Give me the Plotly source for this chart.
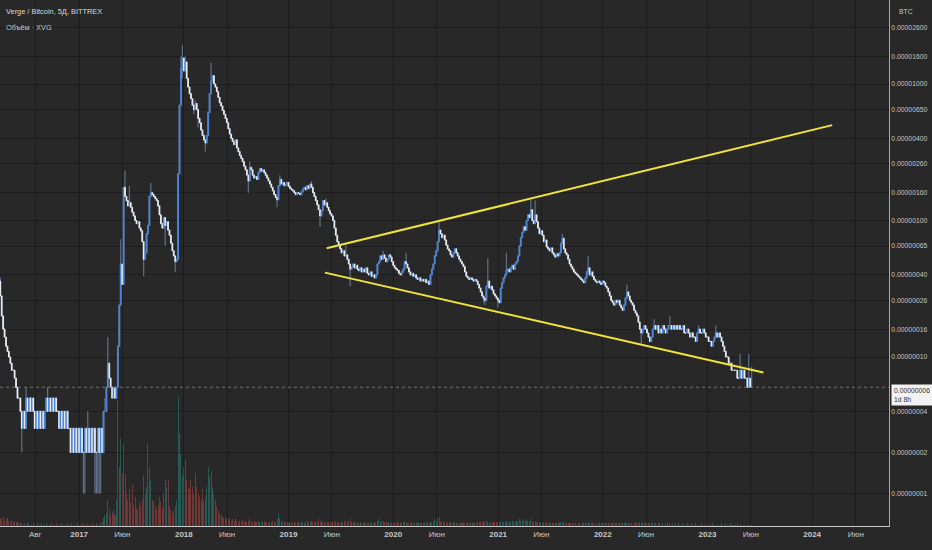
import numpy as np
import pandas as pd
import plotly.graph_objects as go

# ---------------- DATA (XVG/BTC, 5-day candles, prices in satoshi = 1e-8 BTC) ----------------
start_date = "2016-04-01"
period_days = 5
first_open_sat = 36

close_sat = [
    28, 20, 16, 14, 12, 11, 10, 9, 8, 8, 7, 6, 5, 5, 4,
    3, 4, 3, 5, 4, 5, 4, 5, 4, 3, 4, 3, 4, 3, 4, 3, 4, 5, 4, 5,
    4, 5, 4, 5, 4, 4, 3, 4, 3, 4, 3, 4, 3, 3, 2, 3, 2, 3, 2, 3,
    2, 3, 2, 2, 3, 2, 3, 2, 3, 2, 3, 2, 2, 3, 2, 3, 2, 4, 4, 6,
    9, 7, 6, 5, 6, 5, 6, 12, 24, 48, 34, 175, 150, 140, 128, 135, 125, 115, 108, 100, 95, 98, 88, 84, 70,
    52, 58, 80, 92, 150, 160, 155, 150, 145, 140, 128, 110, 95, 88, 105, 92, 98, 85, 78, 68, 60, 55, 50, 52, 220,
    700, 1300, 1550, 1250, 1450, 1100, 950, 850, 780, 700, 650, 720, 650, 560, 520, 460, 420, 390, 370, 420, 620, 850, 1050, 1150, 1000,
    950, 880, 800, 730, 690, 640, 600, 560, 520, 470, 430, 400, 380, 360, 390, 340, 320, 300, 285, 270, 250, 235, 215, 195, 245,
    235, 215, 205, 210, 200, 225, 240, 230, 235, 225, 215, 205, 195, 185, 175, 165, 155, 148, 142, 180, 200, 185, 190, 180, 185,
    190, 178, 172, 168, 165, 160, 155, 160, 158, 155, 162, 170, 175, 168, 180, 172, 185, 175, 160, 150, 140, 130, 120, 108, 118,
    140, 130, 135, 125, 118, 112, 108, 100, 88, 78, 70, 66, 62, 58, 60, 55, 56, 52, 48, 44, 46, 48, 45, 47, 44,
    43, 45, 42, 44, 42, 45, 41, 40, 42, 39, 40, 38, 40, 48, 50, 55, 52, 56, 53, 50, 52, 56, 54, 50, 47,
    45, 44, 43, 41, 40, 42, 44, 50, 48, 45, 42, 40, 41, 39, 40, 38, 37, 38, 36, 37, 36, 37, 35, 36, 34,
    40, 44, 48, 55, 60, 70, 85, 80, 75, 78, 72, 66, 62, 60, 56, 54, 58, 62, 58, 55, 52, 50, 48, 46, 42,
    39, 38, 37, 38, 37, 36, 37, 36, 34, 32, 30, 28, 27, 26, 33, 36, 32, 33, 31, 29, 28, 27, 26, 25, 32,
    35, 38, 40, 43, 44, 42, 45, 47, 44, 48, 50, 55, 65, 75, 82, 90, 85, 100, 110, 105, 120, 100, 95, 110, 98,
    88, 80, 84, 78, 70, 72, 64, 62, 60, 63, 58, 56, 54, 57, 55, 58, 68, 74, 62, 58, 56, 52, 48, 46, 44,
    42, 41, 40, 39, 38, 37, 36, 35, 38, 42, 45, 40, 42, 39, 37, 36, 35, 36, 35, 34, 36, 35, 33, 32, 30,
    28, 26, 25, 24, 26, 25, 26, 24, 23, 22, 24, 27, 30, 28, 26, 25, 24, 22, 21, 20, 18, 16, 15, 16, 17,
    16, 15, 14, 13, 14, 16, 17, 16, 17, 15, 16, 15, 17, 16, 15, 16, 17, 17, 16, 17, 16, 17, 16, 17, 16,
    16, 17, 15, 15, 16, 15, 14, 15, 14, 14, 13, 15, 16, 15, 15, 16, 15, 14, 14, 13, 13, 12, 13, 14, 15,
    14, 15, 14, 13, 12, 11, 10, 10, 9, 9, 8, 8, 8, 8, 7, 7, 8, 7, 8, 7, 7, 6, 7, 6, 6,
]

# notable wick extremes (candle index -> satoshi)
wick_high_sat = {0: 38, 18: 6, 33: 6, 61: 4, 73: 5, 75: 14, 84: 73, 87: 231, 90: 179, 105: 188,
                 126: 1600, 127: 1930, 129: 1600, 136: 760, 147: 1430, 174: 270, 195: 215, 217: 195,
                 227: 145, 241: 66, 267: 60, 283: 58, 306: 97, 340: 53, 353: 58, 370: 145, 373: 140,
                 392: 80, 410: 55, 437: 34, 456: 19, 467: 20, 487: 17, 499: 17, 516: 10.5, 522: 10.5, 524: 8.5}
wick_low_sat = {15: 2, 58: 1, 59: 1, 66: 1, 67: 1, 68: 1, 69: 1, 70: 1, 100: 39, 115: 65, 122: 42,
                127: 1100, 135: 600, 138: 480, 143: 320, 173: 160, 193: 125, 223: 90, 244: 33,
                337: 25, 338: 24, 347: 23, 447: 12.5}

volume_rel = [
    6, 5, 7, 4, 5, 6, 4, 3, 5, 3, 4, 3, 3, 2, 2,
    2, 1, 2, 1, 2, 2, 1, 1, 2, 1, 1, 2, 1, 1, 2, 1, 1, 2, 1, 1,
    1, 2, 1, 1, 2, 1, 1, 1, 2, 1, 1, 1, 2, 1, 1, 2, 1, 1, 1, 2,
    1, 1, 2, 1, 1, 2, 1, 1, 1, 2, 1, 1, 2, 1, 1, 2, 3, 6, 8, 10,
    20, 12, 8, 10, 12, 8, 20, 96, 45, 66, 40, 63, 39, 25, 20, 28, 18, 31, 15, 22, 14, 12, 18, 15, 20,
    39, 25, 30, 63, 45, 35, 20, 18, 15, 12, 16, 22, 18, 14, 25, 35, 30, 35, 15, 12, 10, 12, 15, 20, 98,
    70, 55, 39, 45, 50, 35, 30, 28, 35, 30, 25, 40, 30, 25, 22, 20, 28, 18, 22, 30, 45, 38, 42, 30, 25,
    20, 15, 12, 10, 8, 7, 6, 6, 5, 5, 6, 4, 5, 4, 6, 4, 3, 4, 3, 5, 3, 4, 3, 4, 5,
    3, 3, 4, 3, 3, 4, 3, 3, 3, 4, 3, 3, 2, 3, 3, 4, 3, 3, 5, 10, 6, 4, 3, 3, 3,
    3, 2, 3, 3, 2, 3, 2, 2, 3, 2, 3, 3, 2, 3, 4, 3, 3, 4, 3, 3, 4, 3, 5, 4, 3,
    3, 3, 2, 3, 3, 2, 3, 4, 3, 4, 3, 3, 2, 3, 3, 4, 3, 3, 4, 5, 3, 3, 2, 3, 2,
    2, 3, 2, 2, 3, 2, 2, 2, 3, 2, 2, 3, 2, 4, 5, 4, 3, 4, 3, 3, 2, 3, 2, 2, 2,
    2, 2, 3, 2, 2, 2, 3, 4, 3, 2, 2, 2, 3, 2, 2, 2, 2, 3, 2, 2, 2, 2, 2, 3, 2,
    3, 3, 4, 5, 4, 6, 7, 4, 3, 3, 3, 3, 2, 3, 2, 2, 3, 3, 2, 2, 2, 2, 2, 3, 2,
    2, 2, 2, 2, 3, 2, 2, 2, 3, 3, 3, 3, 4, 3, 4, 3, 3, 2, 3, 3, 3, 3, 3, 3, 4,
    3, 3, 4, 3, 4, 3, 3, 4, 3, 3, 4, 4, 5, 4, 5, 4, 4, 5, 4, 4, 5, 4, 3, 4, 3,
    3, 3, 3, 2, 3, 2, 3, 2, 2, 2, 2, 2, 2, 2, 3, 2, 3, 3, 2, 2, 2, 2, 2, 2, 2,
    2, 2, 1, 2, 2, 1, 2, 2, 2, 2, 3, 2, 2, 2, 2, 1, 2, 2, 2, 2, 2, 2, 2, 2, 2,
    2, 2, 2, 2, 2, 2, 2, 2, 2, 2, 2, 2, 3, 2, 2, 2, 1, 2, 2, 2, 2, 3, 3, 2, 2,
    2, 2, 2, 2, 2, 2, 2, 2, 1, 2, 2, 1, 2, 1, 2, 2, 1, 2, 1, 2, 1, 2, 1, 2, 1,
    1, 2, 1, 1, 2, 1, 1, 2, 1, 1, 2, 1, 1, 1, 2, 1, 1, 1, 1, 2, 1, 1, 2, 1, 1,
    1, 1, 1, 2, 1, 1, 2, 1, 1, 2, 1, 1, 1, 1, 2, 1, 1, 1, 1, 1, 1, 1, 1, 1, 1,
]

upper_trend_dates = ["2019-05-14", "2024-03-11"]
upper_trend_sat = [62.6, 500]
lower_trend_dates = ["2019-05-08", "2023-07-15"]
lower_trend_sat = [41.5, 7.7]

y_tick_vals = [2.6e-5, 1.6e-5, 1e-5, 6.5e-6, 4e-6, 2.6e-6, 1.6e-6, 1e-6, 6.5e-7, 4e-7,
               2.6e-7, 1.6e-7, 1e-7, 4e-8, 2e-8, 1e-8]
y_tick_text = ["0.00002600", "0.00001600", "0.00001000", "0.00000650", "0.00000400",
               "0.00000260", "0.00000160", "0.00000100", "0.00000065", "0.00000040",
               "0.00000026", "0.00000016", "0.00000010", "0.00000004", "0.00000002", "0.00000001"]

x_tick_dates = ["2016-08-01", "2017-01-01", "2017-06-01", "2018-01-01", "2018-06-01",
                "2019-01-01", "2019-06-01", "2020-01-01", "2020-06-01", "2021-01-01",
                "2021-06-01", "2022-01-01", "2022-06-01", "2023-01-01", "2023-06-01",
                "2024-01-01", "2024-06-01"]
x_tick_text = ["Авг", "<b>2017</b>", "Июн", "<b>2018</b>", "Июн", "<b>2019</b>", "Июн",
               "<b>2020</b>", "Июн", "<b>2021</b>", "Июн", "<b>2022</b>", "Июн",
               "<b>2023</b>", "Июн", "<b>2024</b>", "Июн"]

title_text = "Verge / Bitcoin, 5Д, BITTREX"
volume_text = "Объём · XVG"
price_label_text = "0.00000006<br>1d 8h"

# ---------------- BUILD ----------------
SAT = 1e-8
n = len(close_sat)
dates = pd.date_range(start_date, periods=n, freq=f"{period_days}D")
close = np.array(close_sat, dtype=float) * SAT
open_ = np.concatenate([[first_open_sat * SAT], close[:-1]])
body_hi = np.maximum(open_, close)
body_lo = np.minimum(open_, close)
high = body_hi.copy()
low = body_lo.copy()
for i, v in wick_high_sat.items():
    high[i] = max(high[i], v * SAT)
for i, v in wick_low_sat.items():
    low[i] = min(low[i], v * SAT)

up = close >= open_
vol_colors = np.where(up, "rgba(38,166,154,0.40)", "rgba(239,83,80,0.36)")

FONT = "Liberation Sans, Arial, sans-serif"
BG = "#282828"
GRID = "#1c1c1c"
UPC = "#4a86e0"
DNC = "#f4f4f4"
WICK = "#5d7189"

x_range = ["2016-03-31", "2024-09-25"]

fig = go.Figure()

fig.add_trace(go.Bar(
    x=dates, y=volume_rel, yaxis="y2",
    marker=dict(color=vol_colors, line=dict(width=0)),
    width=period_days * 86400000 * 0.7, hoverinfo="skip",
))

fig.add_trace(go.Candlestick(
    x=dates, open=open_, high=high, low=low, close=close,
    increasing=dict(line=dict(color=WICK, width=1.2), fillcolor=WICK),
    decreasing=dict(line=dict(color=WICK, width=1.2), fillcolor=WICK),
    whiskerwidth=0, hoverinfo="skip",
))

fig.add_trace(go.Candlestick(
    x=dates, open=open_, high=body_hi, low=body_lo, close=close,
    increasing=dict(line=dict(color=UPC, width=0.8), fillcolor=UPC),
    decreasing=dict(line=dict(color=DNC, width=0.8), fillcolor=DNC),
    whiskerwidth=0, hoverinfo="skip",
))

fig.add_trace(go.Scatter(
    x=upper_trend_dates, y=np.array(upper_trend_sat) * SAT, mode="lines",
    line=dict(color="#f2e33a", width=2), hoverinfo="skip",
))
fig.add_trace(go.Scatter(
    x=lower_trend_dates, y=np.array(lower_trend_sat) * SAT, mode="lines",
    line=dict(color="#f2e33a", width=2), hoverinfo="skip",
))

# current price line
fig.add_trace(go.Scatter(
    x=x_range, y=[close[-1], close[-1]], mode="lines",
    line=dict(color="#6e6e6e", width=1, dash="dot"), hoverinfo="skip",
))

fig.update_layout(
    width=932, height=550,
    paper_bgcolor=BG, plot_bgcolor=BG,
    margin=dict(l=0, r=43, t=0, b=24),
    showlegend=False,
    bargap=0,
    xaxis=dict(
        type="date", range=x_range, rangeslider=dict(visible=False),
        tickvals=x_tick_dates, ticktext=x_tick_text,
        showgrid=True, gridcolor=GRID, gridwidth=1, zeroline=False,
        showline=True, linecolor="#c8c8c8", linewidth=1, ticks="",
        tickfont=dict(family=FONT, size=8, color="#c8c8c8"),
    ),
    yaxis=dict(
        type="log", range=[-8.238, -4.3846], side="right",
        tickvals=y_tick_vals, ticktext=y_tick_text,
        showgrid=True, gridcolor=GRID, gridwidth=1, zeroline=False,
        showline=True, linecolor="#a8a8a8", linewidth=1, ticks="",
        tickfont=dict(family=FONT, size=6.8, color="#c4c4c4"),
    ),
    yaxis2=dict(overlaying="y", range=[0, 400], visible=False, fixedrange=True),
    annotations=[
        dict(text=title_text, xref="paper", yref="paper", x=0.004, y=1 - 12 / 526,
             xanchor="left", yanchor="middle", showarrow=False,
             font=dict(family=FONT, size=7.4, color="#dcdcdc")),
        dict(text=volume_text, xref="paper", yref="paper", x=0.004, y=1 - 27 / 526,
             xanchor="left", yanchor="middle", showarrow=False,
             font=dict(family=FONT, size=7.4, color="#c8c8c8")),
        dict(text="BTC", xref="paper", yref="paper", x=1 + 8 / 889, y=1 - 12 / 526,
             xanchor="left", yanchor="middle", showarrow=False,
             font=dict(family=FONT, size=6.8, color="#c4c4c4")),
        dict(text=price_label_text, xref="paper", yref="paper", x=1 + 2 / 889, y=1 - 394.5 / 526,
             xanchor="left", yanchor="middle", showarrow=False, align="left",
             bgcolor="#f2f2f2", borderpad=2,
             font=dict(family=FONT, size=6.8, color="#303030")),
    ],
)

fig.write_html("out.html", config={"displayModeBar": False},
               post_script="document.body.style.margin='0';document.body.style.background='#282828';")
